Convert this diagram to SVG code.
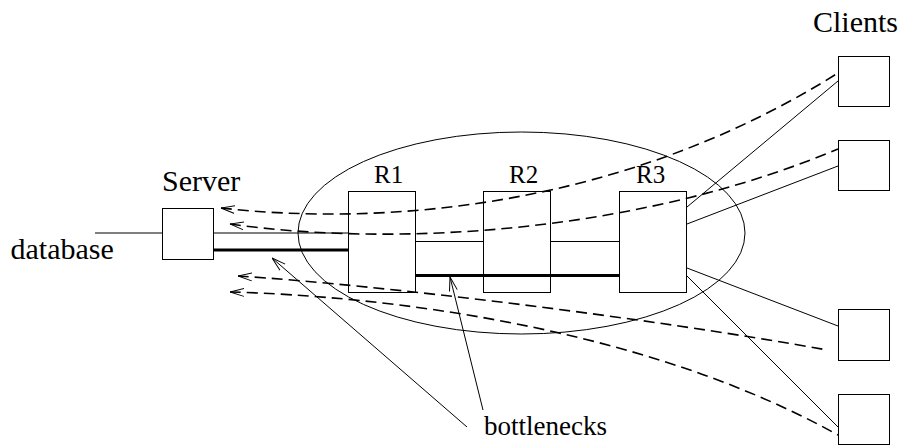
<svg xmlns="http://www.w3.org/2000/svg" width="900" height="446" viewBox="0 0 900 446">
  <style>
    .box { fill: none; stroke: #000; stroke-width: 1; }
    .line { fill: none; stroke: #000; stroke-width: 1; }
    .thick { fill: none; stroke: #000; stroke-width: 3; }
    .flow { fill: none; stroke: #000; stroke-width: 1.6; stroke-dasharray: 11 6; }
    .lbl { font-family: "Liberation Serif", "Times New Roman", serif; fill: #000; }
    .big { font-size: 30px; }
    .mid { font-size: 25px; }
    .note { font-size: 27px; }
  </style>
  <defs>
    <marker id="open" viewBox="0 0 14 10" refX="14" refY="5" markerUnits="userSpaceOnUse" markerWidth="14" markerHeight="10" orient="auto-start-reverse">
      <path d="M0,1 L14,5 L0,9" fill="none" stroke="#000" stroke-width="1"/>
    </marker>
  </defs>

  <!-- network region around the routers -->
  <ellipse id="network" class="line" cx="521.5" cy="233" rx="223.5" ry="101"/>

  <g id="connectors">
    <!-- links -->
    <line class="line" x1="95" y1="233" x2="162" y2="233"/>
    <line class="line" x1="213" y1="233" x2="348" y2="233"/>
    <line class="thick" x1="213" y1="250" x2="348" y2="250"/>
    <line class="line" x1="416" y1="241.5" x2="483" y2="241.5"/>
    <line class="line" x1="551" y1="241.5" x2="619" y2="241.5"/>
    <line class="thick" x1="416" y1="275.5" x2="619" y2="275.5"/>
    <line class="line" x1="687" y1="207" x2="838" y2="81"/>
    <line class="line" x1="687" y1="224" x2="838" y2="166"/>
    <line class="line" x1="687" y1="268" x2="838" y2="326"/>
    <line class="line" x1="687" y1="276" x2="838" y2="427"/>
    <!-- request flows from clients to the server -->
    <path class="flow" marker-start="url(#open)" d="M221,208 C380,226 620,210 838,73"/>
    <path class="flow" marker-start="url(#open)" d="M230,224 C400,248 640,232 838,149"/>
    <path class="flow" marker-start="url(#open)" d="M238,276 C380,285 650,318 827,350"/>
    <path class="flow" marker-start="url(#open)" d="M230,292 C380,296 640,325 838,435"/>
    <!-- bottleneck pointers -->
    <line class="line" marker-end="url(#open)" x1="467" y1="427" x2="272" y2="258"/>
    <line class="line" marker-end="url(#open)" x1="483" y1="410" x2="450" y2="277"/>
  </g>

  <g id="database">
    <text class="lbl big" x="10.5" y="258.5">database</text>
  </g>
  <g id="server">
    <rect class="box" x="162.5" y="208.5" width="51" height="51"/>
    <text class="lbl big" x="162" y="191">Server</text>
  </g>
  <g id="r1">
    <rect class="box" x="348.5" y="191.5" width="67" height="101"/>
    <text class="lbl mid" x="374" y="183">R1</text>
  </g>
  <g id="r2">
    <rect class="box" x="483.5" y="191.5" width="67" height="101"/>
    <text class="lbl mid" x="509" y="183">R2</text>
  </g>
  <g id="r3">
    <rect class="box" x="619.5" y="191.5" width="67" height="101"/>
    <text class="lbl mid" x="636" y="183">R3</text>
  </g>
  <g id="clients">
    <text class="lbl big" x="813" y="31.5">Clients</text>
  </g>
  <g id="client1"><rect class="box" x="838.5" y="56.5" width="51" height="50"/></g>
  <g id="client2"><rect class="box" x="838.5" y="140.5" width="51" height="50"/></g>
  <g id="client3"><rect class="box" x="838.5" y="309.5" width="51" height="51"/></g>
  <g id="client4"><rect class="box" x="838.5" y="394.5" width="51" height="50"/></g>
  <g id="bottlenecks">
    <text class="lbl note" x="484" y="435">bottlenecks</text>
  </g>
</svg>
